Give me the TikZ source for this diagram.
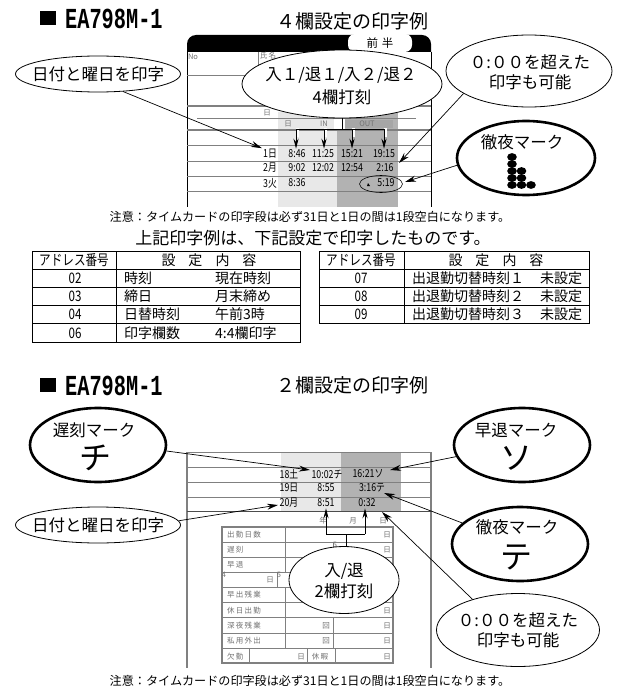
\documentclass[tikz,border=0pt]{standalone}
\usepackage{fontspec}
\setmainfont{Noto Sans CJK JP}
\newfontfamily\titlefont[FakeStretch=0.70]{Liberation Mono}
\newfontfamily\narrowfont[FakeStretch=0.80]{Noto Sans CJK JP}
\usetikzlibrary{shapes.geometric,arrows.meta}
\definecolor{bandlight}{gray}{0.91}
\definecolor{banddark}{gray}{0.70}
\definecolor{rulegray}{gray}{0.50}
\tikzset{
    callout/.style={draw,ellipse,fill=white,line width=0.8pt,inner sep=0pt},
    markcallout/.style={draw,ellipse,fill=white,line width=2.6pt,inner sep=0pt},
    lbl/.style={inner sep=0pt,font=\fontsize{16.5}{18}\selectfont},
    marklbl/.style={inner sep=0pt,font=\fontsize{16.5}{18}\selectfont},
    bigkana/.style={inner sep=0pt,font=\fontsize{32}{34}\selectfont},
    stamp/.style={inner sep=1pt,font=\narrowfont\fontsize{11}{12}\selectfont},
    faint/.style={inner sep=0pt,text=black!55,font=\fontsize{7.5}{8}\selectfont},
    heading/.style={inner sep=0pt,font=\fontsize{19}{21}\selectfont},
    modeltitle/.style={inner sep=0pt,font=\titlefont\bfseries\fontsize{29}{30}\selectfont},
    note/.style={inner sep=0pt,font=\fontsize{12.1}{14}\selectfont},
    cell/.style={inner sep=0pt,font=\fontsize{14}{16}\selectfont},
    narrowcell/.style={inner sep=0pt,font=\narrowfont\fontsize{14.5}{16}\selectfont},
    pointer/.style={-{Stealth[length=11pt,width=6pt]},line width=0.7pt},
    forkline/.style={-{Stealth[length=10pt,width=5pt]},line width=0.9pt},
    halo/.style={white,line width=3pt},
    cardline/.style={rulegray,line width=0.6pt},
    cardbold/.style={rulegray,line width=1.5pt}
}
\begin{document}
\begin{tikzpicture}[x=1pt,y=-1pt]
    \useasboundingbox (0,0) rectangle (626,698);
    \fill[white] (0,0) rectangle (626,698);

    % First title
    \fill (40,11) rectangle (56,25);
    \node[modeltitle,anchor=west] (modela) at (65,18.5) {EA798M-1};
    \node[heading] (heada) at (352,21) {４欄設定の印字例};

    % First card: bands and rules
    \fill[bandlight] (278,112) rectangle (337,207);
    \fill[banddark] (337,112) rectangle (398,207);
    \fill[white] (334,112) rectangle (345,129);
    \fill[rulegray!70] (345,120) rectangle (393,128);
    \fill (187,52) [rounded corners=9] -- (187,35) -- (431,35) [sharp corners] -- (431,52) -- cycle;
    \fill[white,rounded corners=7] (348,34) rectangle (412,52);
    \node[inner sep=0pt,font=\fontsize{11.5}{12}\selectfont] (fronthalf) at (380,43) {前\,\,半};
    \draw[line width=0.8pt] (187,52) -- (187,207) (431,52) -- (431,207);
    \draw[cardline] (258,52) -- (258,75);
    \draw[cardline] (187,75) -- (431,75);
    \draw[cardbold] (187,106) -- (431,106);
    \draw[cardline] (197,118) -- (416,118);
    \draw[cardbold] (187,130) -- (431,130);
    \foreach \ypos in {145,161,176,191}
        \draw[cardline] (187,\ypos) -- (431,\ypos);
    \node[faint] (nofield) at (193,57) {No};
    \node[faint] (namefield) at (268,56) {氏\,名};
    \node[faint] (dayfield) at (267,113) {日};
    \node[faint] (hourfield) at (288,124) {日};
    \node[faint] (infield) at (324,124) {IN};
    \node[faint] (outfield) at (367,124) {OUT};

    % First card: printed rows
    \node[stamp] (daya) at (270,154) {1日};
    \node[stamp] (ina) at (297,154) {8:46};
    \node[stamp] (outa) at (323,154) {11:25};
    \node[stamp] (inb) at (352,154) {15:21};
    \node[stamp] (outb) at (384,154) {19:15};
    \node[stamp] (dayb) at (270,168) {2月};
    \node[stamp] (inc) at (297,168) {9:02};
    \node[stamp] (outc) at (323,168) {12:02};
    \node[stamp] (ind) at (352,168) {12:54};
    \node[stamp] (outd) at (385,168) {2:16};
    \node[stamp] (dayc) at (270,183) {3火};
    \node[stamp] (ine) at (297,183) {8:36};
    \node[stamp] (oute) at (386,183) {5:19};
    \fill (368,183) -- (370,186) -- (367,186) -- cycle;
    \node[draw,ellipse,inner sep=0pt,minimum width=43,minimum height=17,line width=0.6pt] (nightring) at (381,184) {};

    % First card: fork
    \coordinate (forkup) at (342,117);
    \coordinate (forkmid) at (342,129);
    \foreach \target/\xpos in {ina/296,outa/324,inb/352,outb/384}{
        \coordinate (fork\target) at (\xpos,129);
        \draw[halo] (fork\target) -- ++(1.5,0) -- ++(0,8);
        \draw[forkline] (fork\target) -- (\target.north -| fork\target);
    }
    \draw[line width=0.9pt] (forkup) -- (forkmid);
    \draw[line width=0.9pt] (forkina) -- (forkoutb);

    % First card: callouts
    \node[callout,minimum width=165,minimum height=36] (datea) at (98,74) {};
    \node[lbl] (dateatext) at (98,74) {日付と曜日を印字};
    \node[callout,minimum width=200,minimum height=68] (fourstamp) at (342,84) {};
    \node[lbl] (fourstampa) at (341,75) {入１/退１/入２/退２};
    \node[lbl] (fourstampb) at (342,97) {4欄打刻};
    \node[callout,minimum width=166,minimum height=72] (overa) at (529,71) {};
    \node[lbl] (overatexta) at (530,62) {０:００を超えた};
    \node[lbl] (overatextb) at (530,82) {印字も可能};
    \node[markcallout,minimum width=138,minimum height=74] (nighta) at (526,158) {};
    \node[marklbl] (nightatext) at (522,142) {徹夜マーク};
    \foreach \col/\row in {0/0,0/1,0/2,0/3,0/4,1/2,1/3,1/4,2/4}
        \fill ({512+\col*9.5},{157+\row*7}) ellipse (4.8 and 3.9);

    % First card: connectors
    \coordinate (tipover) at (399,163);
    \coordinate (tipring) at (405,182);
    \draw[pointer] (datea.-35) -- (daya.north west);
    \draw[pointer] (overa.199) -- (tipover);
    \draw[pointer] (nighta.186) -- (tipring);

    % First note and tables
    \node[note] (notea) at (310,217) {注意：タイムカードの印字段は必ず31日と1日の間は1段空白になります。};
    \node[inner sep=0pt,font=\fontsize{17}{19}\selectfont] (tablehead) at (313,238) {上記印字例は、下記設定で印字したものです。};

    \draw[line width=0.7pt] (32,251) rectangle (300,342);
    \draw[line width=0.7pt] (116,251) -- (116,342);
    \foreach \ypos in {269,287,305,323}
        \draw[line width=0.7pt] (32,\ypos) -- (300,\ypos);
    \node[narrowcell] (addrheada) at (74,260) {アドレス番号};
    \node[cell] (itemheada) at (209,260) {設\hspace{13pt}定\hspace{13pt}内\hspace{13pt}容};
    \foreach \yrow/\addr/\itemname/\itemvalue in {278/02/時刻/現在時刻,296/03/締日/月末締め,314/04/日替時刻/午前3時,333/06/印字欄数/4:4欄印字}{
        \node[narrowcell] (addr\addr) at (75,\yrow) {\addr};
        \node[cell,anchor=west] (name\addr) at (124,\yrow) {\itemname};
        \node[cell,anchor=west] (value\addr) at (215,\yrow) {\itemvalue};
    }

    \draw[line width=0.7pt] (319,251) rectangle (589,323);
    \draw[line width=0.7pt] (404,251) -- (404,323);
    \foreach \ypos in {269,287,305}
        \draw[line width=0.7pt] (319,\ypos) -- (589,\ypos);
    \node[narrowcell] (addrheadb) at (361,260) {アドレス番号};
    \node[cell] (itemheadb) at (496,260) {設\hspace{13pt}定\hspace{13pt}内\hspace{13pt}容};
    \foreach \yrow/\addr/\itemname in {278/07/１,296/08/２,314/09/３}{
        \node[narrowcell] (addr\addr) at (361,\yrow) {\addr};
        \node[cell,anchor=west] (name\addr) at (412,\yrow) {出退勤切替時刻\itemname};
        \node[cell,anchor=west] (value\addr) at (540,\yrow) {未設定};
    }

    % Second title
    \fill (40,378) rectangle (56,392);
    \node[modeltitle,anchor=west] (modelb) at (65,386) {EA798M-1};
    \node[heading] (headb) at (352,385) {２欄設定の印字例};

    % Second card: bands and rules
    \fill[bandlight] (281,452) rectangle (341,511);
    \fill[banddark] (341,452) rectangle (401,511);
    \draw[cardbold] (187,452) -- (187,668) (431,452) -- (431,668);
    \foreach \ypos in {452,467,482,497}
        \draw[cardline] (187,\ypos) -- (431,\ypos);
    \draw[line width=1pt,black!70] (187,511) -- (431,511);

    % Second card: printed rows
    \node[stamp] (dayd) at (289,474) {18土};
    \node[stamp] (inf) at (327,474) {10:02チ};
    \node[stamp] (outf) at (368,474) {16:21ソ};
    \node[stamp] (daye) at (289,488) {19日};
    \node[stamp] (ing) at (326,488) {8:55};
    \node[stamp] (outg) at (372,488) {3:16テ};
    \node[stamp] (dayf) at (289,503) {20月};
    \node[stamp] (inh) at (326,503) {8:51};
    \node[stamp] (outh) at (367,503) {0:32};

    % Second card: summary form
    \node[faint] (formyear) at (323,521) {年};
    \node[faint] (formmonth) at (353,521) {月};
    \node[faint] (formday) at (383,521) {日};
    \draw[cardbold] (222,527) rectangle (393,663);
    \foreach \ypos in {542,557,572,587,602,617,633,648}
        \draw[cardline] (222,\ypos) -- (393,\ypos);
    \draw[cardline] (285,527) -- (285,572);
    \draw[cardline] (285,587) -- (285,648);
    \draw[cardline] (333,542) -- (333,557);
    \draw[cardline] (333,617) -- (333,648);
    \draw[cardline] (277,572) -- (277,587);
    \draw[cardline] (249,648) -- (249,663);
    \draw[cardline] (307,648) -- (307,663);
    \draw[cardline] (335,648) -- (335,663);
    \foreach \ypos/\rowtitle in {535/出\,勤\,日\,数,550/遅\,刻,565/早\,退,595/早\,出\,残\,業,611/休\,日\,出\,勤,626/深\,夜\,残\,業,641/私\,用\,外\,出}
        \node[faint,anchor=west] (form\ypos) at (227,\ypos) {\rowtitle};
    \foreach \ypos in {535,550,565,580,595,611,626,641,657}
        \node[faint] (formunit\ypos) at (387,\ypos) {日};
    \node[faint] (formfour) at (224,575) {4};
    \node[faint] (formfourd) at (270,580) {日};
    \node[faint] (formfive) at (279,575) {5};
    \node[faint] (formtwo) at (335,545) {5};
    \node[faint] (formtimesa) at (326,626) {回};
    \node[faint] (formtimesb) at (326,641) {回};
    \node[faint,anchor=west] (formabsent) at (227,657) {欠\,勤};
    \node[faint] (formabsentd) at (301,657) {日};
    \node[faint] (formleave) at (320,657) {休\,暇};

    % Second card: fork
    \coordinate (pairdown) at (346,547);
    \coordinate (pairmid) at (346,534);
    \coordinate (pairin) at (326,534);
    \coordinate (pairout) at (365,534);
    \draw[line width=0.9pt] (pairdown) -- (pairmid);
    \draw[line width=0.9pt] (pairin) -- (pairout);
    \draw[forkline] (pairin) -- (inh.south -| pairin);
    \draw[forkline] (pairout) -- (outh.south -| pairout);

    % Second card: callouts
    \node[markcallout,minimum width=136,minimum height=74] (late) at (98,445) {};
    \node[marklbl] (latetext) at (94,430) {遅刻マーク};
    \node[bigkana] (latekana) at (95,458) {チ};
    \node[markcallout,minimum width=136,minimum height=74] (early) at (522,445) {};
    \node[marklbl] (earlytext) at (516,430) {早退マーク};
    \node[bigkana] (earlykana) at (516,458) {ソ};
    \node[callout,minimum width=165,minimum height=36] (dateb) at (98,525) {};
    \node[lbl] (datebtext) at (98,525) {日付と曜日を印字};
    \node[callout,minimum width=110,minimum height=67] (twostamp) at (344,580) {};
    \node[lbl] (twostampa) at (344,571) {入/退};
    \node[lbl] (twostampb) at (344,591) {2欄打刻};
    \node[markcallout,minimum width=136,minimum height=74] (nightb) at (520,544) {};
    \node[marklbl] (nightbtext) at (517,527) {徹夜マーク};
    \node[bigkana] (nightbkana) at (516,557) {テ};
    \node[callout,minimum width=163,minimum height=73] (overb) at (518,630) {};
    \node[lbl] (overbtexta) at (518,620) {０:００を超えた};
    \node[lbl] (overbtextb) at (518,640) {印字も可能};

    % Second card: connectors
    \coordinate (tiplate) at (310,470);
    \coordinate (tipearly) at (390,470);
    \coordinate (tipnight) at (384,493);
    \coordinate (tipzero) at (382,512);
    \coordinate (tipdate) at (278,505);
    \draw[pointer] (late.-5) -- (tiplate);
    \draw[pointer] (early.190) -- (tipearly);
    \draw[pointer] (dateb.3) -- (tipdate);
    \draw[pointer] (nightb.160) -- (tipnight);
    \draw[pointer] (overb.146) -- (tipzero);

    % Second note
    \node[note] (noteb) at (310,681) {注意：タイムカードの印字段は必ず31日と1日の間は1段空白になります。};
\end{tikzpicture}
\end{document}
